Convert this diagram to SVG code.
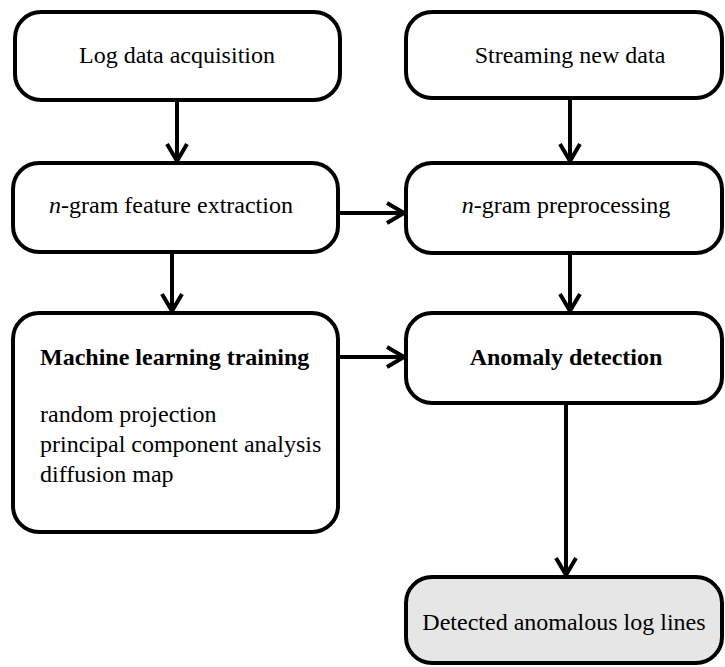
<svg xmlns="http://www.w3.org/2000/svg" width="725" height="667" viewBox="0 0 725 667">
<style>
.box{fill:#fff;stroke:#000;stroke-width:4}
.hl{fill:#e6e6e6;stroke:#000;stroke-width:4}
.t{font-family:"Liberation Serif","Times New Roman",serif;font-size:24px;fill:#000}
.c{text-anchor:middle}
.b{font-weight:bold}
.i{font-style:italic}
.edge{fill:none;stroke:#000;stroke-width:4}
</style>
<defs>
<marker id="ah" markerUnits="userSpaceOnUse" markerWidth="24" markerHeight="26" refX="19" refY="12" orient="auto">
<path d="M2,2 L19,12 L2,22" fill="none" stroke="#000" stroke-width="4"/>
</marker>
</defs>
<rect width="725" height="667" fill="#fff"/>
<g id="connectors">
<line class="edge" x1="177" y1="100" x2="177" y2="161" marker-end="url(#ah)"/>
<line class="edge" x1="570" y1="98" x2="570" y2="161" marker-end="url(#ah)"/>
<line class="edge" x1="339" y1="213" x2="404" y2="213" marker-end="url(#ah)"/>
<line class="edge" x1="172" y1="252" x2="172" y2="311" marker-end="url(#ah)"/>
<line class="edge" x1="570" y1="253" x2="570" y2="311" marker-end="url(#ah)"/>
<line class="edge" x1="339" y1="357" x2="404" y2="357" marker-end="url(#ah)"/>
<line class="edge" x1="566" y1="403" x2="566" y2="575" marker-end="url(#ah)"/>
</g>
<g id="log-data">
<rect class="box" x="15" y="12" width="325" height="88" rx="26"/>
<text class="t c" x="177" y="63">Log data acquisition</text>
</g>
<g id="streaming">
<rect class="box" x="406" y="12" width="316" height="86" rx="26"/>
<text class="t c" x="570" y="63">Streaming new data</text>
</g>
<g id="feature-extraction">
<rect class="box" x="13" y="163" width="325" height="89" rx="26"/>
<text class="t c" x="171" y="213"><tspan class="i">n</tspan>-gram feature extraction</text>
</g>
<g id="preprocessing">
<rect class="box" x="406" y="163" width="316" height="90" rx="26"/>
<text class="t c" x="566" y="213"><tspan class="i">n</tspan>-gram preprocessing</text>
</g>
<g id="ml-training">
<rect class="box" x="13" y="313" width="325" height="219" rx="26"/>
<text class="t b" x="40" y="365">Machine learning training</text>
<text class="t" x="40" y="422">random projection</text>
<text class="t" x="40" y="452">principal component analysis</text>
<text class="t" x="40" y="482">diffusion map</text>
</g>
<g id="anomaly-detection">
<rect class="box" x="406" y="313" width="316" height="90" rx="26"/>
<text class="t c b" x="566" y="365">Anomaly detection</text>
</g>
<g id="detected">
<rect class="hl" x="406" y="577" width="316" height="86" rx="26"/>
<text class="t c" x="564" y="630">Detected anomalous log lines</text>
</g>
</svg>
